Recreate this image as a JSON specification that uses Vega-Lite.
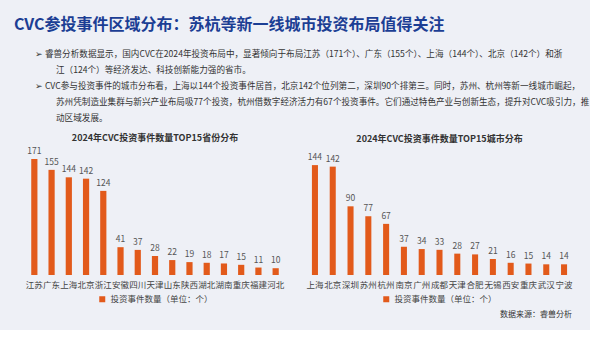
{
  "$schema": "https://vega.github.io/schema/vega-lite/v6.json",
  "background": "#eef0f6",
  "padding": {"left": 14, "top": 17, "right": 0, "bottom": 0},
  "title": {
    "text": "CVC参投事件区域分布：苏杭等新一线城市投资布局值得关注",
    "subtitle": [
      "\u2800\u2800\u2800➢\u00a0睿兽分析数据显示，国内CVC在2024年投资布局中，显著倾向于布局江苏（171个）、广东（155个）、上海（144个）、北京（142个）和浙",
      "\u2800\u2800\u2800\u2800\u2800\u2800江（124个）等经济发达、科技创新能力强的省市。",
      "\u2800\u2800\u2800➢\u00a0CVC参与投资事件的城市分布看，上海以144个投资事件居首，北京142个位列第二，深圳90个排第三。同时，苏州、杭州等新一线城市崛起，",
      "\u2800\u2800\u2800\u2800\u2800\u2800苏州凭制造业集群与新兴产业布局吸77个投资，杭州借数字经济活力有67个投资事件。它们通过特色产业与创新生态，提升对CVC吸引力，推",
      "\u2800\u2800\u2800\u2800\u2800\u2800动区域发展。"
    ],
    "anchor": "start",
    "font": "Noto Sans CJK SC",
    "fontSize": 16,
    "fontWeight": "bold",
    "color": "#1c3e94",
    "subtitleFont": "Noto Sans CJK SC",
    "subtitleFontSize": 8.6,
    "subtitleColor": "#333333",
    "subtitleLineHeight": 16,
    "subtitlePadding": 17,
    "offset": 11
  },
  "datasets": {
    "provinces": [
      {"region": "江苏", "count": 171, "series": "投资事件数量（单位：个）"},
      {"region": "广东", "count": 155, "series": "投资事件数量（单位：个）"},
      {"region": "上海", "count": 144, "series": "投资事件数量（单位：个）"},
      {"region": "北京", "count": 142, "series": "投资事件数量（单位：个）"},
      {"region": "浙江", "count": 124, "series": "投资事件数量（单位：个）"},
      {"region": "安徽", "count": 41, "series": "投资事件数量（单位：个）"},
      {"region": "四川", "count": 37, "series": "投资事件数量（单位：个）"},
      {"region": "天津", "count": 28, "series": "投资事件数量（单位：个）"},
      {"region": "山东", "count": 22, "series": "投资事件数量（单位：个）"},
      {"region": "陕西", "count": 19, "series": "投资事件数量（单位：个）"},
      {"region": "湖北", "count": 18, "series": "投资事件数量（单位：个）"},
      {"region": "湖南", "count": 17, "series": "投资事件数量（单位：个）"},
      {"region": "重庆", "count": 15, "series": "投资事件数量（单位：个）"},
      {"region": "福建", "count": 11, "series": "投资事件数量（单位：个）"},
      {"region": "河北", "count": 10, "series": "投资事件数量（单位：个）"}
    ],
    "cities": [
      {"region": "上海", "count": 144, "series": "投资事件数量（单位：个）"},
      {"region": "北京", "count": 142, "series": "投资事件数量（单位：个）"},
      {"region": "深圳", "count": 90, "series": "投资事件数量（单位：个）"},
      {"region": "苏州", "count": 77, "series": "投资事件数量（单位：个）"},
      {"region": "杭州", "count": 67, "series": "投资事件数量（单位：个）"},
      {"region": "南京", "count": 37, "series": "投资事件数量（单位：个）"},
      {"region": "广州", "count": 34, "series": "投资事件数量（单位：个）"},
      {"region": "成都", "count": 33, "series": "投资事件数量（单位：个）"},
      {"region": "天津", "count": 28, "series": "投资事件数量（单位：个）"},
      {"region": "合肥", "count": 27, "series": "投资事件数量（单位：个）"},
      {"region": "无锡", "count": 21, "series": "投资事件数量（单位：个）"},
      {"region": "西安", "count": 16, "series": "投资事件数量（单位：个）"},
      {"region": "重庆", "count": 15, "series": "投资事件数量（单位：个）"},
      {"region": "武汉", "count": 14, "series": "投资事件数量（单位：个）"},
      {"region": "宁波", "count": 14, "series": "投资事件数量（单位：个）"}
    ],
    "source": [{"note": ""}]
  },
  "spacing": 6,
  "vconcat": [
    {
      "spacing": 4,
      "resolve": {"scale": {"color": "independent"}, "legend": {"color": "independent"}},
      "hconcat": [
        {
          "data": {"name": "provinces"},
          "width": 282,
          "height": 116,
          "title": {"text": "2024年CVC投资事件数量TOP15省份分布", "offset": 4},
          "encoding": {
            "x": {"field": "region", "type": "nominal", "sort": null, "title": null,
                  "scale": {"paddingInner": 0.64, "paddingOuter": 1.26}},
            "y": {"field": "count", "type": "quantitative", "scale": {"domain": [0, 171], "nice": false}, "axis": null}
          },
          "layer": [
            {
              "mark": {"type": "bar"},
              "encoding": {
                "color": {"field": "series", "type": "nominal", "scale": {"range": ["#e25a1b"]},
                          "legend": {"orient": "bottom", "title": null}}
              }
            },
            {
              "mark": {"type": "text", "baseline": "bottom", "dy": -3, "fontSize": 8.5, "color": "#555555", "font": "Noto Sans CJK SC"},
              "encoding": {"text": {"field": "count", "type": "quantitative"}}
            }
          ]
        },
        {
          "data": {"name": "cities"},
          "width": 279,
          "height": 116,
          "title": {"text": "2024年CVC投资事件数量TOP15城市分布", "offset": 9},
          "encoding": {
            "x": {"field": "region", "type": "nominal", "sort": null, "title": null,
                  "scale": {"paddingInner": 0.66, "paddingOuter": 0.67}},
            "y": {"field": "count", "type": "quantitative", "scale": {"domain": [0, 152], "nice": false}, "axis": null}
          },
          "layer": [
            {
              "mark": {"type": "bar"},
              "encoding": {
                "color": {"field": "series", "type": "nominal", "scale": {"range": ["#e25a1b"]},
                          "legend": {"orient": "bottom", "title": null}}
              }
            },
            {
              "mark": {"type": "text", "baseline": "bottom", "dy": -3, "fontSize": 8.5, "color": "#555555", "font": "Noto Sans CJK SC"},
              "encoding": {"text": {"field": "count", "type": "quantitative"}}
            }
          ]
        }
      ]
    },
    {
      "data": {"name": "source"},
      "width": 558,
      "height": 1,
      "title": {"text": "数据来源：睿兽分析", "anchor": "end", "fontSize": 8, "fontWeight": "normal", "color": "#333333", "offset": 0},
      "mark": {"type": "text"},
      "encoding": {"text": {"field": "note", "type": "nominal"}}
    }
  ],
  "config": {
    "view": {"stroke": null},
    "font": "Noto Sans CJK SC",
    "title": {"font": "Noto Sans CJK SC", "fontSize": 9, "fontWeight": "bold", "color": "#333333"},
    "axis": {
      "labelFont": "Noto Sans CJK SC",
      "labelFontSize": 8.5,
      "labelColor": "#444444",
      "labelAngle": 0,
      "labelPadding": 5,
      "ticks": false,
      "domain": false,
      "grid": false
    },
    "legend": {
      "labelFont": "Noto Sans CJK SC",
      "labelFontSize": 8.5,
      "labelColor": "#444444",
      "symbolType": "square",
      "symbolSize": 36,
      "offset": 6,
      "layout": {"bottom": {"anchor": "middle"}}
    }
  }
}
